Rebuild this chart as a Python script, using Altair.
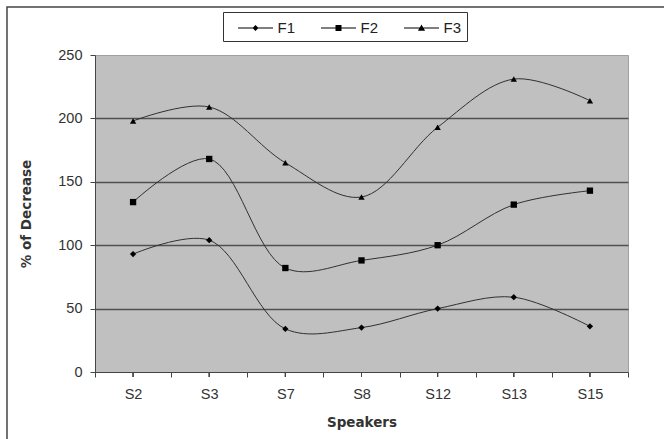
import altair as alt
import pandas as pd

speakers = ["S2", "S3", "S7", "S8", "S12", "S13", "S15"]
f1 = [93, 104, 34, 35, 50, 59, 36]
f2 = [134, 168, 82, 88, 100, 132, 143]
f3 = [198, 209, 165, 138, 193, 231, 214]
series = ["F1", "F2", "F3"]
y_ticks = [0, 50, 100, 150, 200, 250]

rows = []
for name, vals in zip(series, [f1, f2, f3]):
    for s, v in zip(speakers, vals):
        rows.append({"speaker": s, "value": v, "series": name})
df = pd.DataFrame(rows)

W, H = 533, 317
FONT = "Liberation Sans"
TFONT = "DejaVu Sans"
LSIZE = 14.5

x_enc = alt.X("speaker:N", sort=speakers, bandPosition=0.5,
              scale=alt.Scale(type="band", paddingInner=0, paddingOuter=0),
              axis=alt.Axis(title="Speakers", tickBand="extent", tickExtra=True,
                            labelAngle=0, labelPadding=10, titlePadding=15,
                            labelFontSize=LSIZE, labelFont=FONT, labelColor="#333",
                            tickSize=5, domainColor="#444", tickColor="#444"))
y_enc = alt.Y("value:Q", scale=alt.Scale(domain=[0, 250], nice=False),
              axis=alt.Axis(title="% of Decrease", values=y_ticks,
                            tickSize=5, titlePadding=24, labelPadding=8,
                            labelFontSize=LSIZE, labelFont=FONT, labelColor="#333",
                            domainColor="#444", tickColor="#444",
                            gridColor="#505050", gridWidth=1.5,
                            gridOpacity=alt.condition("datum.value == 250 || datum.value == 0",
                                                      alt.value(0), alt.value(1))))

base = alt.Chart(df)

lines = base.mark_line(interpolate="catmull-rom", color="#303030", strokeWidth=1).encode(
    x=x_enc, y=y_enc, detail="series:N")

points = base.mark_point(filled=True, color="black", opacity=1, size=40).encode(
    x=x_enc, y=y_enc,
    shape=alt.Shape("series:N",
                    scale=alt.Scale(domain=series, range=["diamond", "square", "triangle-up"]),
                    legend=None))

# legend glyphs: a short thin bar (the line) with the marker on it
legend_paths = [
    "M-1.75,-0.05H1.75V0.05H-1.75ZM0,-0.3L0.3,0L0,0.3L-0.3,0Z",
    "M-1.75,-0.05H1.75V0.05H-1.75ZM-0.3,-0.3H0.3V0.3H-0.3Z",
    "M-1.75,-0.05H1.75V0.05H-1.75ZM0,-0.36L0.36,0.27H-0.36Z",
]
legend_layer = base.mark_point(filled=True, color="black", opacity=0, size=0).encode(
    x=x_enc, y=y_enc,
    shape=alt.Shape("series:N",
                    scale=alt.Scale(domain=series, range=legend_paths),
                    legend=alt.Legend(title=None, orient="none", direction="horizontal",
                                      legendX=128, legendY=-43,
                                      symbolSize=400, symbolOpacity=1,
                                      symbolFillColor="black", symbolOffset=16.5,
                                      labelFontSize=15, labelFont=FONT, labelColor="#222",
                                      labelOffset=11, columnPadding=15,
                                      padding=5, strokeColor="#333", fillColor="white")))

center_ticks = base.mark_rule(color="#444").encode(
    x=alt.X("speaker:N", sort=speakers, bandPosition=0.5),
    y=alt.value(H), y2=alt.value(H + 5))

frame = alt.Chart(pd.DataFrame({"a": [0]})).mark_rect(
    fill=None, stroke="#444", strokeWidth=1.5).encode(
    x=alt.value(-88), x2=alt.value(W + 60), y=alt.value(-48), y2=alt.value(H + 100))

chart = alt.layer(frame, lines, points, legend_layer, center_ticks).resolve_scale(
    shape="independent"
).properties(
    width=W, height=H,
    background="white",
    padding={"left": 95, "top": 55, "right": 36, "bottom": 67},
    autosize=alt.AutoSizeParams(type="none"),
).configure_view(
    fill="#c0c0c0", stroke="#a0a0a0", strokeWidth=1
).configure_axis(
    titleFont=TFONT, titleFontSize=13.5, titleFontWeight="bold", titleColor="#333", grid=False
).configure_axisY(grid=True)

chart.save("out.html", embed_options={"renderer": "svg", "actions": False})
